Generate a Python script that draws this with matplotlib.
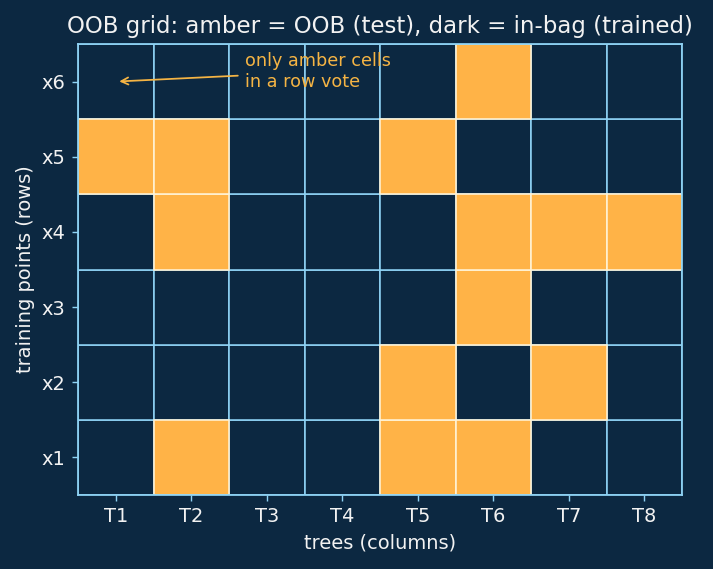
import matplotlib
matplotlib.use("Agg")
import matplotlib.pyplot as plt
import numpy as np
from matplotlib.patches import Rectangle

trees = ["T1", "T2", "T3", "T4", "T5", "T6", "T7", "T8"]
points = ["x1", "x2", "x3", "x4", "x5", "x6"]
# 1 = OOB (amber), 0 = in-bag; rows x1..x6
oob_x1 = [0, 1, 0, 0, 1, 1, 0, 0]
oob_x2 = [0, 0, 0, 0, 1, 0, 1, 0]
oob_x3 = [0, 0, 0, 0, 0, 1, 0, 0]
oob_x4 = [0, 1, 0, 0, 0, 1, 1, 1]
oob_x5 = [1, 1, 0, 0, 1, 0, 0, 0]
oob_x6 = [0, 0, 0, 0, 0, 1, 0, 0]
oob = np.array([oob_x1, oob_x2, oob_x3, oob_x4, oob_x5, oob_x6])

BG = "#0c2841"
AMBER = "#ffb347"
GRID = "#8fd3f5"
TXT = "#f2f2f2"

DPI = 127
fig = plt.figure(figsize=(713 / DPI, 569 / DPI), dpi=DPI, facecolor=BG)
ax = fig.add_axes([78/713, 1 - 495/569, (682-78)/713, (495-44)/569])
ax.set_facecolor(BG)

nr, nc = oob.shape
for r in range(nr):
    for c in range(nc):
        if not oob[r, c]:
            ax.add_patch(Rectangle((c - 0.5, r - 0.5), 1, 1, facecolor=BG,
                                   edgecolor=GRID, lw=0.9, zorder=1))
for r in range(nr):
    for c in range(nc):
        if oob[r, c]:
            ax.add_patch(Rectangle((c - 0.5, r - 0.5), 1, 1, facecolor=AMBER,
                                   edgecolor="#fff3d6", lw=0.9, zorder=2))

ax.set_xlim(-0.5, nc - 0.5)
ax.set_ylim(-0.5, nr - 0.5)
ax.set_xticks(range(nc))
ax.set_xticklabels(trees)
ax.set_yticks(range(nr))
ax.set_yticklabels(points)
ax.tick_params(colors=GRID, labelcolor=TXT, labelsize=11)
for s in ax.spines.values():
    s.set_color(GRID)
    s.set_linewidth(1.0)
    s.set_zorder(3)

ax.set_xlabel("trees (columns)", color=TXT, fontsize=11)
ax.set_ylabel("training points (rows)", color=TXT, fontsize=11)
ax.set_title("OOB grid: amber = OOB (test), dark = in-bag (trained)", color=TXT,
             fontsize=13, pad=6)

ax.annotate("only amber cells\nin a row vote", xy=(0, 5), xytext=(1.71, 5.13),
            color="#f5b444", fontsize=10, va="center", ha="left",
            arrowprops=dict(arrowstyle="->", color="#f5b444", lw=1.0), zorder=5)

fig.savefig("out.png", dpi=DPI, facecolor=BG)
